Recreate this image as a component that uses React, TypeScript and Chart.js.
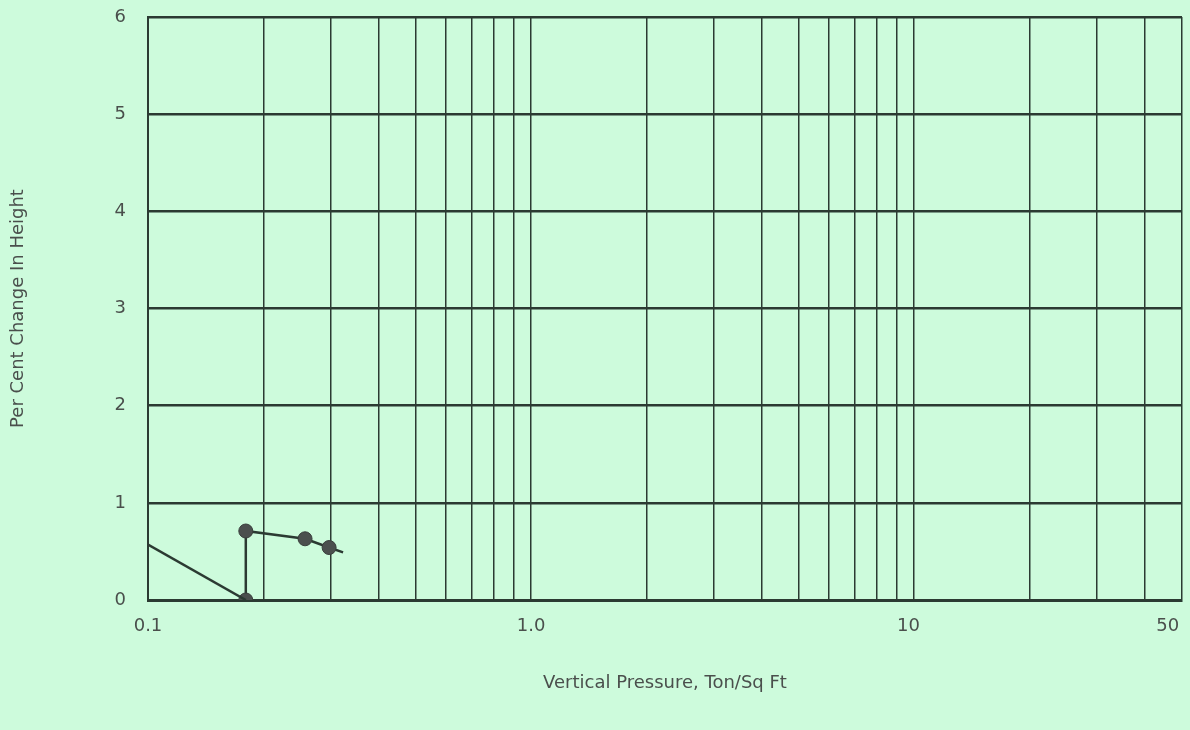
import React, { useEffect, useRef } from "react";
import { Chart, registerables } from "chart.js";

Chart.register(...registerables);

// Data
const leadInPressure = [0.1, 0.18];
const leadInChange = [0.57, 0];

const testPressure = [0.18, 0.18, 0.257, 0.297, 0.323];
const testChange = [0, 0.71, 0.63, 0.54, 0.49];
const testMarked = [true, true, true, true, false];

const xGridValues = [
  0.1, 0.2, 0.3, 0.4, 0.5, 0.6, 0.7, 0.8, 0.9, 1, 2, 3, 4, 5, 6, 7, 8, 9, 10,
  20, 30, 40, 50,
];
const xLabelValues = [0.1, 1, 10, 50];
const xLabelTexts = ["0.1", "1.0", "10  ", "50     "];
const yTicks = [0, 1, 2, 3, 4, 5, 6];

const BG = "#cdfbdc";
const INK = "#2b3a32";
const TEXT = "#4a4f4c";
const FONT = "'DejaVu Sans', 'Open Sans', sans-serif";

export default function App() {
  const ref = useRef<HTMLCanvasElement | null>(null);

  useEffect(() => {
    document.body.style.margin = "0";
    const canvas = ref.current;
    if (!canvas) return;

    const bgPlugin = {
      id: "bg",
      beforeDraw(chart: any) {
        const ctx = chart.ctx;
        ctx.save();
        ctx.fillStyle = BG;
        ctx.fillRect(0, 0, chart.width, chart.height);
        ctx.restore();
      },
    };

    const chart = new Chart(canvas, {
      type: "scatter",
      data: {
        datasets: [
          {
            data: leadInPressure.map((x, i) => ({ x, y: leadInChange[i] })),
            showLine: true,
            borderColor: INK,
            borderWidth: 2.5,
            pointRadius: 0,
          },
          {
            data: testPressure.map((x, i) => ({ x, y: testChange[i] })),
            showLine: true,
            borderColor: INK,
            borderWidth: 2.5,
            backgroundColor: "#4b4f4e",
            pointBorderColor: "#3a3f3d",
            pointBorderWidth: 1,
            pointRadius: testMarked.map((m) => (m ? 7 : 0)),
            tension: 0,
          },
        ],
      },
      options: {
        animation: false,
        responsive: false,
        maintainAspectRatio: false,
        layout: { padding: { top: 17, right: 7, left: 0, bottom: 0 } },
        plugins: {
          legend: { display: false },
          tooltip: { enabled: false },
        },
        scales: {
          x: {
            type: "logarithmic",
            min: 0.1,
            max: 50,
            afterBuildTicks: (scale: any) => {
              scale.ticks = xGridValues.map((v) => ({ value: v }));
            },
            border: { display: true, color: INK, width: 3 },
            grid: {
              color: INK,
              lineWidth: 1.5,
              drawTicks: false,
            },
            ticks: {
              autoSkip: false,
              maxRotation: 0,
              padding: 16,
              color: TEXT,
              font: { family: FONT, size: 18 },
              callback: (v: any) => {
                const val = Number(v);
                const idx = xLabelValues.findIndex(
                  (t) => Math.abs(t - val) / t < 1e-6
                );
                return idx >= 0 ? xLabelTexts[idx] : "";
              },
            },
            title: {
              display: true,
              text: "Vertical Pressure, Ton/Sq Ft",
              color: TEXT,
              font: { family: FONT, size: 18 },
              padding: { top: 30, bottom: 36 },
            },
            afterFit: (scale: any) => {
              scale.height = 130;
              scale.paddingLeft = 0;
              scale.paddingRight = 0;
            },
          },
          y: {
            type: "linear",
            min: 0,
            max: 6,
            afterBuildTicks: (scale: any) => {
              scale.ticks = yTicks.map((v) => ({ value: v }));
            },
            border: { display: true, color: INK, width: 2 },
            grid: {
              color: INK,
              lineWidth: 2.6,
              drawTicks: false,
            },
            ticks: {
              padding: 22,
              color: TEXT,
              font: { family: FONT, size: 18 },
            },
            title: {
              display: true,
              text: "Per Cent Change In Height",
              color: TEXT,
              font: { family: FONT, size: 18 },
              padding: { top: 8, bottom: 0 },
            },
            afterFit: (scale: any) => {
              scale.width = 148;
              scale.paddingTop = 0;
              scale.paddingBottom = 0;
            },
          },
        },
      },
      plugins: [bgPlugin],
    } as any);

    return () => chart.destroy();
  }, []);

  return (
    <div style={{ width: 1190, height: 730, background: BG }}>
      <canvas ref={ref} width={1190} height={730} style={{ display: "block" }} />
    </div>
  );
}
